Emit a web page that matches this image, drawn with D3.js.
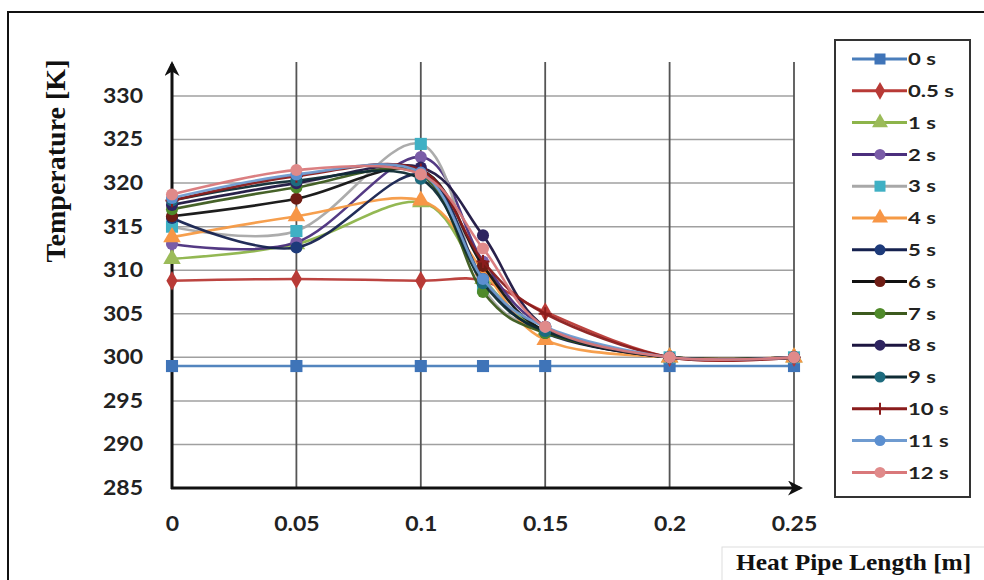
<!DOCTYPE html>
<html><head><meta charset="utf-8">
<script src="https://cdn.jsdelivr.net/npm/d3@7/dist/d3.min.js"></script>
<style>body{margin:0;background:#fff}svg{display:block}</style>
</head><body><svg id="c" width="984" height="580"></svg>
<script>
const positions = [0, 0.05, 0.1, 0.125, 0.15, 0.2, 0.25];
const seriesNames = ["0 s","0.5 s","1 s","2 s","3 s","4 s","5 s","6 s","7 s","8 s","9 s","10 s","11 s","12 s"];
const t0   = [299, 299, 299, 299, 299, 299, 299];
const t05  = [308.8, 309, 308.8, 308.8, 305.2, 300, 300];
const t1   = [311.3, 313, 317.8, 309, 303, 300, 300];
const t2   = [313, 313.2, 323, 311, 303.5, 300, 300];
const t3   = [315, 314.5, 324.5, 308, 303, 300, 300];
const t4   = [313.8, 316.2, 318, 310, 302, 300, 300];
const t5   = [316, 312.6, 321, 309, 302.8, 300, 300];
const t6   = [316.2, 318.2, 321.5, 310.5, 303, 300, 300];
const t7   = [317, 319.5, 321, 307.5, 302.8, 300, 300];
const t8   = [317.5, 320, 321.8, 314, 303.5, 300, 300];
const t9   = [318, 320.3, 320.5, 308.5, 303, 300, 300];
const t10  = [318, 320.8, 321.5, 311, 305, 300, 300];
const t11  = [318.3, 321, 321.2, 309, 303.5, 300, 300];
const t12  = [318.7, 321.5, 321, 312.5, 303.5, 300, 300];
const seriesValues = [t0,t05,t1,t2,t3,t4,t5,t6,t7,t8,t9,t10,t11,t12];
const xTicks = [0, 0.05, 0.1, 0.15, 0.2, 0.25];
const yTicks = [285, 290, 295, 300, 305, 310, 315, 320, 325, 330];

const styles = [
  {line:"#4a7ebb", fill:"#3f74b8", shape:"square"},
  {line:"#b83a36", fill:"#b83a36", shape:"diamond"},
  {line:"#8db44a", fill:"#9bbb59", shape:"triangle"},
  {line:"#4b2f7d", fill:"#7a5ca8", shape:"circle"},
  {line:"#a8a8a8", fill:"#3fb0c4", shape:"square"},
  {line:"#f59a45", fill:"#f79646", shape:"triangle"},
  {line:"#16224f", fill:"#1d3a7a", shape:"circle"},
  {line:"#111111", fill:"#6e1c14", shape:"circle"},
  {line:"#3c5a1e", fill:"#4f8a2a", shape:"circle"},
  {line:"#1c1540", fill:"#2e2460", shape:"circle"},
  {line:"#0f2c35", fill:"#1d6b7e", shape:"circle"},
  {line:"#8a1c1c", fill:"#8a1c1c", shape:"plus"},
  {line:"#6f9bd0", fill:"#5b8fd0", shape:"circle"},
  {line:"#d9787a", fill:"#e08a8a", shape:"circle"}
];

const FONT = "Lato, 'Open Sans', sans-serif";
function stretch(sel, f) {
  sel.each(function(){
    const w = this.getComputedTextLength();
    d3.select(this).attr("textLength", w*f).attr("lengthAdjust","spacingAndGlyphs");
  });
}

const svg = d3.select("#c");
svg.append("rect").attr("x",8).attr("y",12).attr("width",1000).attr("height",600)
  .attr("fill","#fff").attr("stroke","#111").attr("stroke-width",2);

const x = d3.scaleLinear().domain([0,0.25]).range([172,794]);
const y = d3.scaleLinear().domain([285,330]).range([488,96]);

// gridlines
svg.append("g").selectAll("line").data(yTicks.filter(v=>v>285)).join("line")
  .attr("x1",x(0)).attr("x2",x(0.25)).attr("y1",d=>y(d)).attr("y2",d=>y(d))
  .attr("stroke","#a0a0a0").attr("stroke-width",1.5);
svg.append("g").selectAll("line").data(xTicks.filter(v=>v>0)).join("line")
  .attr("x1",d=>x(d)).attr("x2",d=>x(d)).attr("y1",62).attr("y2",y(285))
  .attr("stroke","#555").attr("stroke-width",1.8);

// axes
const yAxis = d3.axisLeft(y).tickValues(yTicks).tickSize(0).tickPadding(29).tickFormat(d3.format("d"));
const gy = svg.append("g").attr("transform",`translate(${x(0)},0)`).call(yAxis);
gy.select(".domain").remove();
gy.selectAll("text").attr("font-family",FONT).attr("font-weight","bold")
  .attr("font-size",20).attr("fill","#222").call(stretch, 1.15);
const xAxis = d3.axisBottom(x).tickValues(xTicks).tickSize(0).tickPadding(29).tickFormat(d=>d===0?"0":String(d));
const gx = svg.append("g").attr("transform",`translate(0,${y(285)})`).call(xAxis);
gx.select(".domain").remove();
gx.selectAll("text").attr("font-family",FONT).attr("font-weight","bold")
  .attr("font-size",20).attr("fill","#222").call(stretch, 1.15);

// axis lines with arrows
const defs = svg.append("defs");
defs.append("marker").attr("id","arr").attr("viewBox","0 0 10 10").attr("refX",8).attr("refY",5)
  .attr("markerWidth",5).attr("markerHeight",5).attr("orient","auto")
  .append("path").attr("d","M0,0 L10,5 L0,10 L3,5 Z").attr("fill","#111");
svg.append("line").attr("x1",x(0)).attr("x2",x(0)).attr("y1",y(285)+1).attr("y2",64)
  .attr("stroke","#111").attr("stroke-width",3).attr("marker-end","url(#arr)");
svg.append("line").attr("x1",x(0)-1).attr("x2",800).attr("y1",y(285)).attr("y2",y(285))
  .attr("stroke","#111").attr("stroke-width",3).attr("marker-end","url(#arr)");

// series
const line = d3.line().x((d,i)=>x(positions[i])).y(d=>y(d)).curve(d3.curveCardinal.tension(0));
function drawMarker(g, shape, fill, cx, cy, s) {
  if (shape==="square") g.append("rect").attr("x",cx-s*0.55).attr("y",cy-s*0.55).attr("width",s*1.1).attr("height",s*1.1).attr("fill",fill);
  else if (shape==="diamond") g.append("path").attr("d",d3.symbol(d3.symbolDiamond, s*s*0.9)()).attr("transform",`translate(${cx},${cy})`).attr("fill",fill);
  else if (shape==="triangle") g.append("path").attr("d",d3.symbol(d3.symbolTriangle, s*s*1.1)()).attr("transform",`translate(${cx},${cy})`).attr("fill",fill);
  else if (shape==="plus") g.append("path").attr("d",`M${cx-s*0.6},${cy}H${cx+s*0.6}M${cx},${cy-s*0.6}V${cy+s*0.6}`).attr("stroke",fill).attr("stroke-width",2);
  else g.append("circle").attr("cx",cx).attr("cy",cy).attr("r",s*0.55).attr("fill",fill);
}
seriesValues.forEach((vals,k)=>{
  const st = styles[k];
  const g = svg.append("g");
  g.append("path").datum(vals).attr("d",line).attr("fill","none")
    .attr("stroke",st.line).attr("stroke-width",2.6).attr("opacity",0.95);
  vals.forEach((v,i)=>drawMarker(g, st.shape, st.fill, x(positions[i]), y(v), 11));
});

// legend
const lg = svg.append("g");
lg.append("rect").attr("x",835).attr("y",40).attr("width",135).attr("height",457)
  .attr("fill","#fff").attr("stroke","#333").attr("stroke-width",2);
seriesNames.forEach((n,k)=>{
  const st = styles[k];
  const ly = 59 + k*31.8;
  lg.append("line").attr("x1",852).attr("x2",907).attr("y1",ly).attr("y2",ly)
    .attr("stroke",st.line).attr("stroke-width",3);
  drawMarker(lg, st.shape, st.fill, 880, ly, 10);
  lg.append("text").attr("x",908).attr("y",ly).attr("dy","0.36em").text(n)
    .attr("font-family",FONT).attr("font-weight","bold")
    .attr("font-size",17).attr("fill","#222").call(stretch, 1.3);
});

// axis titles
svg.append("text").attr("transform","translate(65,161) rotate(-90)").attr("text-anchor","middle")
  .attr("font-family","'Liberation Serif', 'Times New Roman', serif").attr("font-weight","bold")
  .attr("font-size",28).attr("fill","#111").text("Temperature [K]");
svg.append("rect").attr("x",722).attr("y",547).attr("width",270).attr("height",40)
  .attr("fill","#fff").attr("stroke","#ddd").attr("stroke-width",1);
svg.append("text").attr("x",736).attr("y",570)
  .attr("font-family","'Liberation Serif', 'Times New Roman', serif").attr("font-weight","bold")
  .attr("font-size",24).attr("fill","#111").text("Heat Pipe Length [m]")
  .call(stretch, 1.06);
</script></body></html>
